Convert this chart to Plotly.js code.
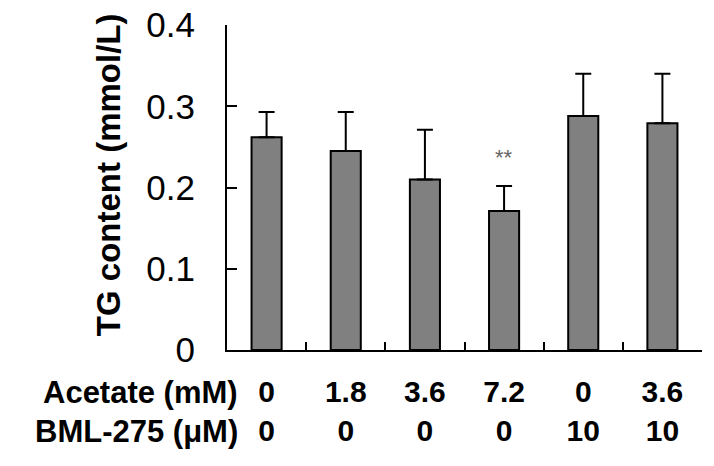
<!DOCTYPE html>
<html><head><meta charset="utf-8">
<script src="https://cdn.plot.ly/plotly-3.0.1.min.js"></script>
<style>html,body{margin:0;padding:0;background:#fff}</style>
</head><body><div id="chart" style="width:714px;height:466px"></div>
<script>
const groups = ['G1','G2','G3','G4','G5','G6'];
const acetate = ['0','1.8','3.6','7.2','0','3.6'];
const bml = ['0','0','0','0','10','10'];
const tgMean = [0.262,0.245,0.210,0.171,0.288,0.279];
const tgSD = [0.031,0.048,0.061,0.031,0.052,0.061];
const signif = ['','','','**','',''];
const rowLabels = ['Acetate (mM)','BML-275 (μM)'];
const yTicks = [0,0.1,0.2,0.3,0.4];
const yTickText = ['0','0.1','0.2','0.3','0.4'];
const yTitle = 'TG content (mmol/L)';

const FONT = '"Liberation Sans", Arial, sans-serif';

const trace = {
  type: 'bar',
  x: groups,
  y: tgMean,
  width: 0.38,
  marker: {color: '#808080', line: {color: '#000', width: 2}},
  error_y: {type: 'data', symmetric: false, array: tgSD, arrayminus: tgSD.map(() => 0),
            color: '#000', thickness: 2, width: 8},
  hoverinfo: 'none'
};

const annotations = [];
signif.forEach((s, i) => {
  if (s) annotations.push({x: groups[i], y: tgMean[i] + tgSD[i] + 0.035, xref: 'x', yref: 'y',
    text: s, showarrow: false, yanchor: 'middle', font: {family: FONT, size: 22, color: '#666'}});
});
rowLabels.forEach((t, r) => {
  annotations.push({x: 0.027, xref: 'paper', xanchor: 'right', y: r === 0 ? -0.131 : -0.251, yref: 'paper',
    yanchor: 'middle', text: '<b>' + t + '</b>', showarrow: false, font: {family: FONT, size: 31, color: '#000'}});
});
annotations.push({x: -0.2505, xref: 'paper', xanchor: 'center', y: 0.538, yref: 'paper', yanchor: 'middle',
  text: '<b>' + yTitle + '</b>', textangle: -90, showarrow: false, font: {family: FONT, size: 33, color: '#000'}});

const layout = {
  width: 714, height: 466,
  margin: {l: 227, r: 12, t: 25, b: 116},
  paper_bgcolor: '#fff', plot_bgcolor: '#fff',
  showlegend: false,
  xaxis: {
    type: 'category', range: [-0.5, 5.5],
    tickvals: groups,
    ticktext: groups.map((g, i) => '<b>' + acetate[i] + '</b><br><b>' + bml[i] + '</b>'),
    tickson: 'boundaries', ticks: 'inside', ticklen: 8, tickwidth: 2, tickcolor: '#000',
    showline: true, linecolor: '#000', linewidth: 2,
    showgrid: false, zeroline: false,
    tickfont: {family: FONT, size: 30, color: '#000'},
    ticklabelstandoff: 14
  },
  yaxis: {
    range: [0, 0.4], tickvals: yTicks, ticktext: yTickText,
    ticks: 'inside', ticklen: 10, tickwidth: 2, tickcolor: '#000',
    showline: true, linecolor: '#000', linewidth: 2,
    showgrid: false, zeroline: false,
    tickfont: {family: FONT, size: 35, color: '#000'},
    ticklabelstandoff: 23
  },
  annotations: annotations
};

Plotly.newPlot('chart', [trace], layout, {displayModeBar: false, staticPlot: true});
</script></body></html>
